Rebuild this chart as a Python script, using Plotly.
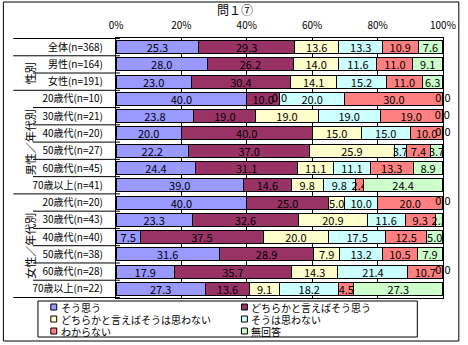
import plotly.graph_objects as go

categories = ["全体(n=368)", "男性(n=164)", "女性(n=191)",
              "20歳代(n=10)", "30歳代(n=21)", "40歳代(n=20)", "50歳代(n=27)", "60歳代(n=45)", "70歳以上(n=41)",
              "20歳代(n=20)", "30歳代(n=43)", "40歳代(n=40)", "50歳代(n=38)", "60歳代(n=28)", "70歳以上(n=22)"]
series_names = ["そう思う", "どちらかと言えばそう思う", "どちらかと言えばそうは思わない",
                "そうは思わない", "わからない", "無回答"]
soo_omou = [25.3, 28.0, 23.0, 40.0, 23.8, 20.0, 22.2, 24.4, 39.0, 40.0, 23.3, 7.5, 31.6, 17.9, 27.3]
dochira_soo = [29.3, 26.2, 30.4, 10.0, 19.0, 40.0, 37.0, 31.1, 14.6, 25.0, 32.6, 37.5, 28.9, 35.7, 13.6]
dochira_omowanai = [13.6, 14.0, 14.1, 0.0, 19.0, 15.0, 25.9, 11.1, 9.8, 5.0, 20.9, 20.0, 7.9, 14.3, 9.1]
omowanai = [13.3, 11.6, 15.2, 20.0, 19.0, 15.0, 3.7, 11.1, 9.8, 10.0, 11.6, 17.5, 13.2, 21.4, 18.2]
wakaranai = [10.9, 11.0, 11.0, 30.0, 19.0, 10.0, 7.4, 13.3, 2.4, 20.0, 9.3, 12.5, 10.5, 10.7, 4.5]
mukaitou = [7.6, 9.1, 6.3, 0.0, 0.0, 0.0, 3.7, 8.9, 24.4, 0.0, 2.3, 5.0, 7.9, 0.0, 27.3]
colors = ["#9999FF", "#993366", "#FFFFCC", "#CCFFFF", "#FF8080", "#CCFFCC"]
group_labels = ["性別", "男性／年代別", "女性／年代別"]
group_rows = [(1, 2), (3, 8), (9, 14)]
x_ticks = [0, 20, 40, 60, 80, 100]
title_text = "問１⑦"

series = [soo_omou, dochira_soo, dochira_omowanai, omowanai, wakaranai, mukaitou]
FONT = "MS PGothic, Noto Sans CJK JP, sans-serif"

W, H = 468, 345
L, R, T, B = 116, 21, 38, 47
PW, PH = W - L - R, H - T - B


def px2x(px):
    return (px - L) / PW


def py2y(py):
    return (H - B - py) / PH


fig = go.Figure()
for name, vals, col in zip(series_names, series, colors):
    fig.add_trace(go.Bar(
        y=categories, x=vals, name=name, orientation="h",
        marker=dict(color=col, line=dict(color="black", width=1)),
        texttemplate="%{x:.1f}", textposition="inside", insidetextanchor="middle",
        textangle=0, constraintext="none",
        textfont=dict(color="black", size=11, family=FONT),
        showlegend=False, hoverinfo="skip",
    ))

# zero-valued segments: label at their (zero-width) position
zx, zy = [], []
for r, cat in enumerate(categories):
    cum = 0.0
    for vals in series:
        if vals[r] == 0:
            zx.append(round(cum, 3))
            zy.append(cat)
        cum += vals[r]
fig.add_trace(go.Scatter(x=zx, y=zy, mode="text", text=["0.0"] * len(zx),
                         textfont=dict(color="black", size=11, family=FONT),
                         showlegend=False, hoverinfo="skip", cliponaxis=False))

shapes = []
n = len(categories)
full_bounds = [-0.5, 0.5] + [g[1] + 0.5 for g in group_rows]
for b in range(n + 1):
    yb = b - 0.5
    x0 = px2x(12) if yb in full_bounds else px2x(32)
    shapes.append(dict(type="line", xref="paper", yref="y", x0=x0, x1=px2x(120),
                       y0=yb, y1=yb, line=dict(color="black", width=1)))
# outer frame
shapes.append(dict(type="rect", xref="paper", yref="paper", x0=px2x(2), x1=px2x(463),
                   y0=py2y(341), y1=py2y(2), line=dict(color="black", width=1)))
# legend box
shapes.append(dict(type="rect", xref="paper", yref="paper", x0=px2x(37), x1=px2x(421),
                   y0=py2y(337), y1=py2y(301), line=dict(color="black", width=1),
                   fillcolor="white"))

annotations = []
for lab, (a, b) in zip(group_labels, group_rows):
    annotations.append(dict(text=lab, xref="paper", yref="y", x=px2x(19), y=(a + b) / 2,
                            textangle=-90, showarrow=False, font=dict(size=11, family=FONT, color="black")))

leg_mx = [50, 243]
leg_tx = [58, 251]
leg_y = [307, 319, 331]
for i, (name, col) in enumerate(zip(series_names, colors)):
    c, r = i % 2, i // 2
    yc = leg_y[r]
    shapes.append(dict(type="rect", xref="paper", yref="paper",
                       x0=px2x(leg_mx[c]), x1=px2x(leg_mx[c] + 6),
                       y0=py2y(yc + 3), y1=py2y(yc - 3),
                       fillcolor=col, line=dict(color="black", width=1)))
    annotations.append(dict(text=name, xref="paper", yref="paper", x=px2x(leg_tx[c]), y=py2y(yc),
                            xanchor="left", yanchor="middle", showarrow=False,
                            font=dict(size=10, family=FONT, color="black")))

fig.update_layout(
    width=W, height=H, margin=dict(l=L, r=R, t=T, b=B),
    barmode="stack", bargap=0.25,
    plot_bgcolor="white", paper_bgcolor="white",
    title=dict(text=title_text, x=235 / W, xanchor="center",
               y=1 - 11 / H, yanchor="middle", xref="container", yref="container",
               font=dict(size=12, family=FONT, color="black")),
    xaxis=dict(range=[0, 100.02], side="top", tickvals=x_ticks, ticktext=[f"{v}%" for v in x_ticks],
               showgrid=True, gridcolor="black", gridwidth=1, zeroline=False,
               showline=True, linecolor="black", linewidth=1, mirror=True,
               tickfont=dict(size=10, family=FONT, color="black"), ticks="", ticklabelstandoff=4,
               fixedrange=True),
    yaxis=dict(categoryorder="array", categoryarray=categories, autorange="reversed",
               showline=True, linecolor="black", linewidth=1, mirror=True, showgrid=False,
               tickfont=dict(size=10, family=FONT, color="black"), ticks="", ticklabelstandoff=10,
               fixedrange=True),
    uniformtext=dict(mode="show", minsize=11),
    shapes=shapes, annotations=annotations,
    font=dict(family=FONT, color="black"),
)

fig.write_html("out.html")
